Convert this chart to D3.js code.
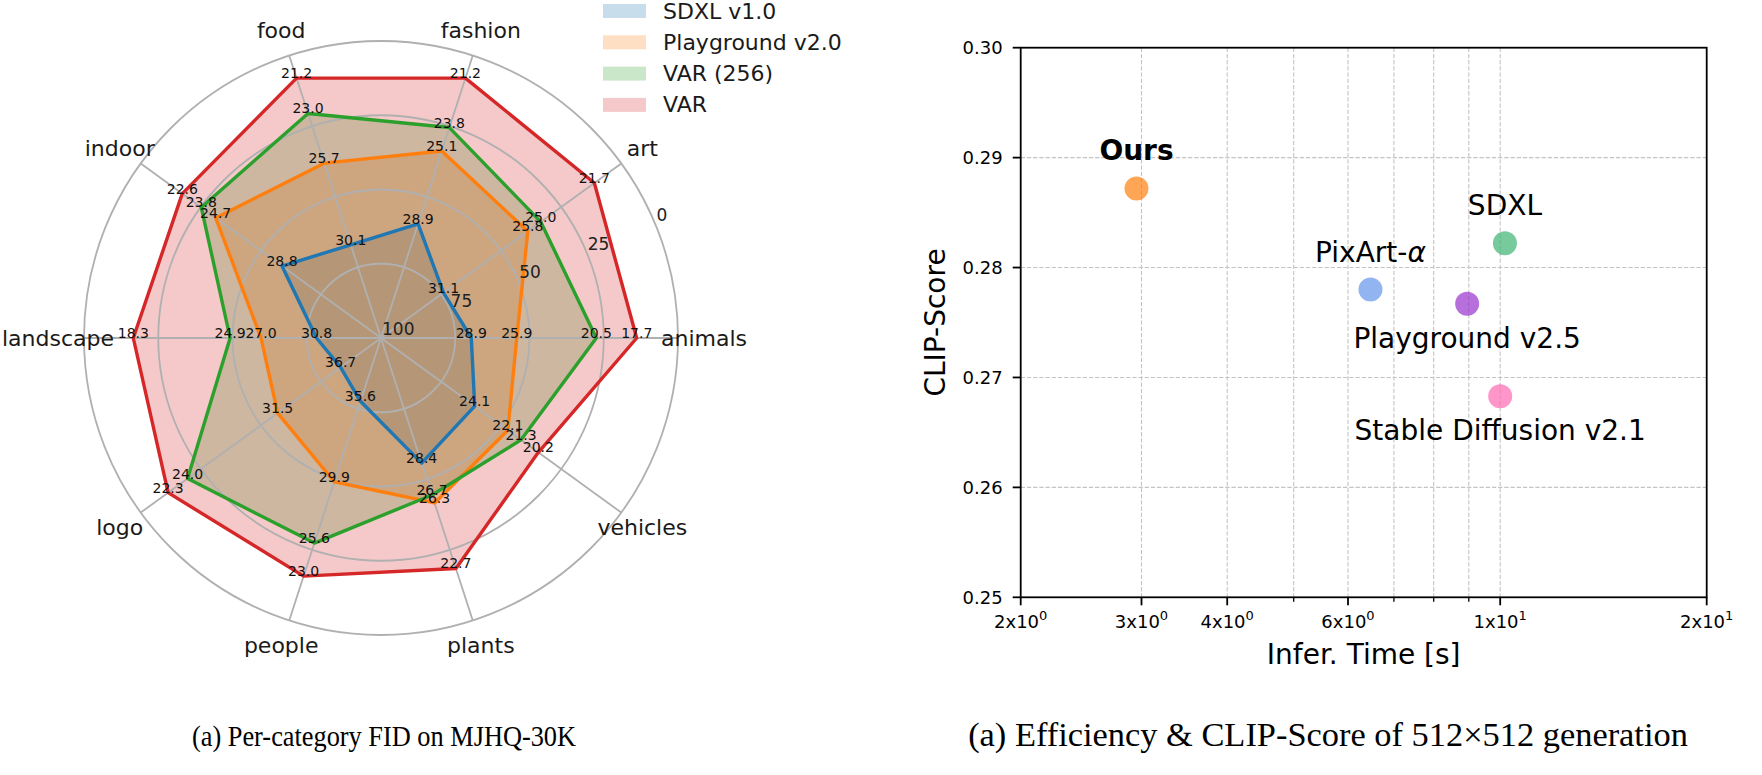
<!DOCTYPE html>
<html>
<head>
<meta charset="utf-8">
<script src="https://cdn.jsdelivr.net/npm/d3@7"></script>
<style>
  html, body { margin: 0; padding: 0; background: #fff; }
  svg { display: block; }
  text { font-family: "DejaVu Sans", sans-serif; }
</style>
</head>
<body>
<div id="chart"></div>
<script>
// ---------------- DATA ----------------
// Radar chart: per-category FID
const categories = ["animals", "art", "fashion", "food", "indoor", "landscape", "logo", "people", "plants", "vehicles"];
const seriesNames = ["SDXL v1.0", "Playground v2.0", "VAR (256)", "VAR"];
// FID values printed at each vertex
const fidSDXL       = [28.9, 31.1, 28.9, 30.1, 28.8, 30.8, 36.7, 35.6, 28.4, 24.1];
const fidPlayground = [25.9, 25.8, 25.1, 25.7, 24.7, 27.0, 31.5, 29.9, 26.3, 22.1];
const fidVAR256     = [20.5, 25.0, 23.8, 23.0, 23.8, 24.9, 24.0, 25.6, 26.7, 21.3];
const fidVAR        = [17.7, 21.7, 21.2, 21.2, 22.6, 18.3, 22.3, 23.0, 22.7, 20.2];
// plotted radial position, read on the radial axis (100 at centre, 0 at rim)
const radSDXL       = [69.6, 74.0, 59.6, 67.0, 58.8, 78.3, 83.2, 77.6, 55.7, 61.0];
const radPlayground = [54.3, 38.9, 33.8, 38.1, 31.2, 59.6, 57.0, 49.1, 41.6, 47.2];
const radVAR256     = [27.5, 33.5, 25.5, 20.5, 25.2, 49.2, 19.5, 27.4, 44.4, 41.7];
const radVAR        = [13.9, 11.2,  8.0,  8.0, 17.3, 16.6, 11.4, 15.7, 18.4, 34.5];
const radialTicks = [0, 25, 50, 75, 100];

// Scatter chart: efficiency vs CLIP score
const models    = ["Ours", "PixArt-α", "SDXL", "Playground v2.5", "Stable Diffusion v2.1"];
const inferTime = [2.95, 6.47, 10.16, 8.95, 10.0];
const clipScore = [0.2872, 0.2780, 0.2822, 0.2767, 0.2683];
const xMajorTicks = [2, 3, 4, 6, 10, 20];
const xMinorTicks = [5, 7, 8, 9];
const yTicks = [0.25, 0.26, 0.27, 0.28, 0.29, 0.30];

const captionLeft  = "(a) Per-category FID on MJHQ-30K";
const captionRight = "(a) Efficiency & CLIP-Score of 512×512 generation";

// ---------------- STYLE ----------------
const W = 1762, H = 775;
const radarColors = ["#1f77b4", "#ff7f0e", "#2ca02c", "#d62728"];
const pointColors = ["#ff7f0e", "cornflowerblue", "mediumseagreen", "darkorchid", "hotpink"];
const belowLabels = new Set(["Playground v2.5", "Stable Diffusion v2.1"]);
const gridGray = "#b0b0b0";

const svg = d3.select("#chart").append("svg")
  .attr("width", W).attr("height", H).attr("viewBox", `0 0 ${W} ${H}`);

// ================= RADAR =================
const cx = 381, cy = 338, R = 297;
const radar = svg.append("g").attr("transform", `translate(${cx},${cy})`);
const rScale = d3.scaleLinear().domain([100, 0]).range([0, R]);
const thetaScale = d3.scaleLinear().domain([0, categories.length]).range([0, 2 * Math.PI]);
// math angle (ccw from east) -> d3 radial angle (cw from north)
const d3Angle = i => Math.PI / 2 - thetaScale(i);
const polar = (i, r) => [r * Math.cos(thetaScale(i)), -r * Math.sin(thetaScale(i))];

const fids = [fidSDXL, fidPlayground, fidVAR256, fidVAR];
const rads = [radSDXL, radPlayground, radVAR256, radVAR];

const radial = d3.lineRadial()
  .angle((d, i) => d3Angle(i))
  .radius(d => rScale(d))
  .curve(d3.curveLinearClosed);

// fills
rads.forEach((vals, s) => {
  radar.append("path").attr("d", radial(vals))
    .attr("fill", radarColors[s]).attr("fill-opacity", 0.25).attr("stroke", "none");
});

// grid circles
radialTicks.filter(t => t !== 100).forEach(t => {
  radar.append("circle").attr("r", rScale(t))
    .attr("fill", "none").attr("stroke", gridGray).attr("stroke-width", 1.8);
});
// spokes
categories.forEach((c, i) => {
  const [x, y] = polar(i, R);
  radar.append("line").attr("x1", 0).attr("y1", 0).attr("x2", x).attr("y2", y)
    .attr("stroke", gridGray).attr("stroke-width", 1.8);
});

// lines
rads.forEach((vals, s) => {
  radar.append("path").attr("d", radial(vals))
    .attr("fill", "none").attr("stroke", radarColors[s]).attr("stroke-width", 3.4)
    .attr("stroke-linejoin", "round");
});

// value labels
rads.forEach((vals, s) => {
  vals.forEach((v, i) => {
    const [x, y] = polar(i, rScale(v));
    radar.append("text").attr("x", x).attr("y", y)
      .attr("text-anchor", "middle").attr("font-size", 14).attr("fill", "#111")
      .text(fids[s][i].toFixed(1));
  });
});

// radial tick labels at 22.5 deg
const labAng = 22.5 * Math.PI / 180;
radialTicks.forEach(t => {
  const r = rScale(t);
  radar.append("text")
    .attr("x", r * Math.cos(labAng) + 1).attr("y", -r * Math.sin(labAng) - 3)
    .attr("text-anchor", "start").attr("font-size", 17).attr("fill", "#222")
    .text(t);
});

// category labels
categories.forEach((c, i) => {
  const [x, y] = polar(i, 323);
  radar.append("text").attr("x", x).attr("y", y)
    .attr("text-anchor", "middle").attr("dominant-baseline", "central")
    .attr("font-size", 22).attr("fill", "#1a1a1a").text(c);
});

// legend
const legend = svg.append("g").attr("transform", "translate(603,4)");
seriesNames.forEach((n, s) => {
  const g = legend.append("g").attr("transform", `translate(0,${s * 31.3})`);
  g.append("rect").attr("x", 0).attr("y", 0).attr("width", 43).attr("height", 14)
    .attr("fill", radarColors[s]).attr("fill-opacity", 0.25);
  g.append("text").attr("x", 60).attr("y", 7).attr("dominant-baseline", "central")
    .attr("font-size", 22).attr("fill", "#1a1a1a").text(n);
});

// ================= SCATTER =================
const x0 = 1020.7, x1 = 1706.7, y0 = 47.7, y1 = 597.3;
const xScale = d3.scaleLog().domain([2, 20]).range([x0, x1]);
const yScale = d3.scaleLinear().domain([0.25, 0.30]).range([y1, y0]);
const sc = svg.append("g");

// grid
xMajorTicks.concat(xMinorTicks).filter(v => v > 2 && v < 20).forEach(v => {
  sc.append("line").attr("x1", xScale(v)).attr("x2", xScale(v)).attr("y1", y0).attr("y2", y1)
    .attr("stroke", "#c4c4c4").attr("stroke-width", 1.1).attr("stroke-dasharray", "4.3,1.9");
});
yTicks.filter(v => v > 0.25 && v < 0.30).forEach(v => {
  sc.append("line").attr("x1", x0).attr("x2", x1).attr("y1", yScale(v)).attr("y2", yScale(v))
    .attr("stroke", "#c4c4c4").attr("stroke-width", 1.1).attr("stroke-dasharray", "4.3,1.9");
});

// spines
sc.append("rect").attr("x", x0).attr("y", y0).attr("width", x1 - x0).attr("height", y1 - y0)
  .attr("fill", "none").attr("stroke", "#000").attr("stroke-width", 1.8);

// y ticks
yTicks.forEach(v => {
  sc.append("line").attr("x1", x0 - 8).attr("x2", x0).attr("y1", yScale(v)).attr("y2", yScale(v))
    .attr("stroke", "#000").attr("stroke-width", 1.8);
  sc.append("text").attr("x", x0 - 18).attr("y", yScale(v)).attr("text-anchor", "end")
    .attr("dominant-baseline", "central").attr("font-size", 18).attr("fill", "#000")
    .text(d3.format(".2f")(v));
});
// x ticks
xMajorTicks.forEach(v => {
  sc.append("line").attr("x1", xScale(v)).attr("x2", xScale(v)).attr("y1", y1).attr("y2", y1 + 8)
    .attr("stroke", "#000").attr("stroke-width", 1.8);
  const e = Math.floor(Math.log10(v) + 1e-9);
  const m = Math.round(v / Math.pow(10, e));
  const t = sc.append("text").attr("x", xScale(v)).attr("y", 628).attr("text-anchor", "middle")
    .attr("font-size", 18).attr("fill", "#000");
  t.append("tspan").text(m + "x10");
  t.append("tspan").attr("dy", -8).attr("font-size", 13).text(e);
});
xMinorTicks.forEach(v => {
  sc.append("line").attr("x1", xScale(v)).attr("x2", xScale(v)).attr("y1", y1).attr("y2", y1 + 4.5)
    .attr("stroke", "#000").attr("stroke-width", 1.3);
});

// points
models.forEach((m, i) => {
  sc.append("circle").attr("cx", xScale(inferTime[i])).attr("cy", yScale(clipScore[i])).attr("r", 12)
    .attr("fill", pointColors[i]).attr("fill-opacity", 0.7);
});
// point labels
models.forEach((m, i) => {
  const below = belowLabels.has(m);
  const t = sc.append("text").attr("x", xScale(inferTime[i]))
    .attr("y", yScale(clipScore[i]) + (below ? 44 : -28))
    .attr("text-anchor", "middle").attr("font-size", 28).attr("fill", "#000")
    .attr("font-weight", i === 0 ? "bold" : "normal");
  if (m.endsWith("α")) {
    t.append("tspan").text(m.slice(0, -1));
    t.append("tspan").attr("font-style", "italic").text("α");
  } else {
    t.text(m);
  }
});

// axis labels
sc.append("text").attr("x", (x0 + x1) / 2).attr("y", 664).attr("text-anchor", "middle")
  .attr("font-size", 28).attr("fill", "#000").text("Infer. Time [s]");
sc.append("text").attr("transform", `translate(945,${(y0 + y1) / 2}) rotate(-90)`)
  .attr("text-anchor", "middle").attr("font-size", 28).attr("fill", "#000").text("CLIP-Score");

// ================= CAPTIONS =================
svg.append("text").attr("x", 384).attr("y", 746).attr("text-anchor", "middle")
  .style("font-family", "'Liberation Serif', 'Times New Roman', serif")
  .attr("font-size", 30).attr("textLength", 384).attr("lengthAdjust", "spacingAndGlyphs")
  .attr("fill", "#000").text(captionLeft);
svg.append("text").attr("x", 1328).attr("y", 746).attr("text-anchor", "middle")
  .style("font-family", "'Liberation Serif', 'Times New Roman', serif")
  .attr("font-size", 34.4).attr("fill", "#000").text(captionRight);
</script>
</body>
</html>
